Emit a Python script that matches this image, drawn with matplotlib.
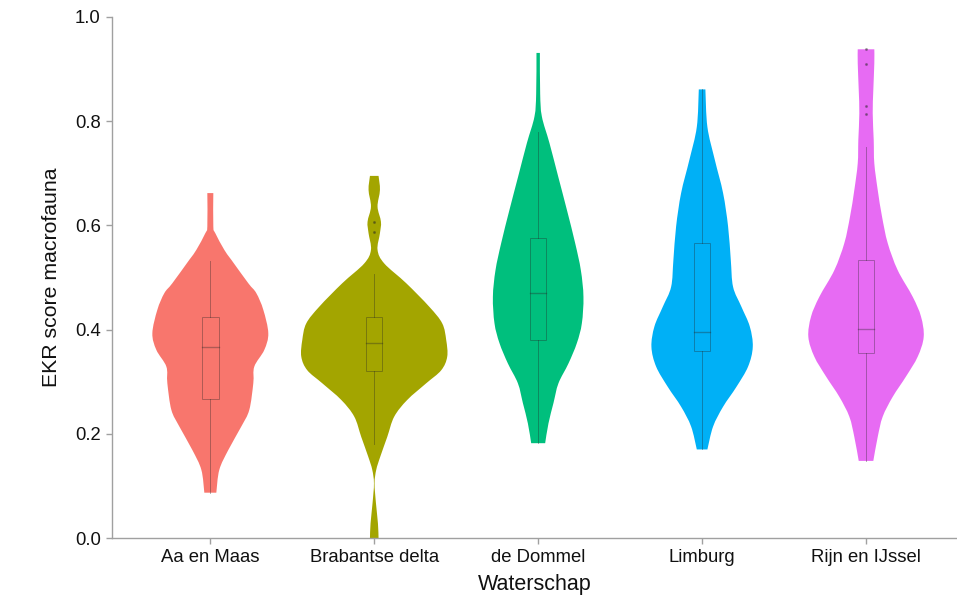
import matplotlib
matplotlib.use("Agg")
import matplotlib.pyplot as plt
from matplotlib.patches import Rectangle, PathPatch
from matplotlib.path import Path

plt.rcParams['font.family'] = ['Liberation Sans', 'DejaVu Sans']

groups = ['Aa en Maas', 'Brabantse delta', 'de Dommel', 'Limburg', 'Rijn en IJssel']
colors = ['#F8766D', '#A3A500', '#00BF7D', '#00B0F6', '#E76BF3']

# violin outlines: score levels and half widths (pixels)
aa_y = [0.087, 0.131, 0.169, 0.214, 0.246, 0.297, 0.329, 0.361, 0.393, 0.438, 0.470, 0.489, 0.534, 0.553, 0.585, 0.598, 0.662]
aa_w = [6, 9, 18, 31, 39, 43, 44, 54, 58, 53, 46, 38, 21, 14, 5, 3, 3]

br_y = [0.0, 0.028, 0.067, 0.105, 0.131, 0.156, 0.194, 0.233, 0.265, 0.297, 0.322, 0.348, 0.380,
        0.412, 0.444, 0.489, 0.527, 0.553, 0.585, 0.607, 0.636, 0.668, 0.695]
br_w = [4.3, 3.7, 1.7, 0.3, 2, 6, 13, 20, 33, 52, 67, 73, 72, 68, 55, 32, 10, 3.3, 5.7, 6.7, 3.3, 5.7, 4.3]

dm_y = [0.182, 0.220, 0.259, 0.297, 0.335, 0.374, 0.412, 0.463, 0.514, 0.566, 0.630, 0.694, 0.758, 0.809, 0.853, 0.931]
dm_w = [7, 10.3, 15.3, 20.3, 30.3, 38.7, 43.7, 45.3, 42.7, 37, 28.7, 20, 11.3, 3.7, 2, 1.7]

lb_y = [0.170, 0.214, 0.252, 0.290, 0.329, 0.367, 0.406, 0.444, 0.482, 0.534, 0.598, 0.662, 0.726, 0.789, 0.861]
lb_w = [5.3, 11, 21, 34.3, 46, 50.7, 47.7, 39.3, 31, 28.7, 26, 21, 12.7, 5.3, 3.3]

rj_y = [0.148, 0.194, 0.233, 0.271, 0.310, 0.348, 0.386, 0.425, 0.463, 0.514, 0.566, 0.617, 0.668,
        0.719, 0.764, 0.815, 0.860, 0.911, 0.938]
rj_w = [7.3, 11.7, 16.7, 26.7, 40, 51.7, 57.7, 55, 46.7, 31.7, 21.7, 16, 11.7, 8.3, 7.7, 6.7, 7.3, 8.3, 8.3]

violin_y = [aa_y, br_y, dm_y, lb_y, rj_y]
violin_w = [aa_w, br_w, dm_w, lb_w, rj_w]

# boxplot stats
q1 = [0.267, 0.321, 0.381, 0.359, 0.356]
med = [0.367, 0.374, 0.470, 0.396, 0.401]
q3 = [0.424, 0.425, 0.575, 0.566, 0.534]
whisk_lo = [0.087, 0.180, 0.182, 0.170, 0.148]
whisk_hi = [0.532, 0.507, 0.780, 0.861, 0.751]
outliers = [[], [0.607, 0.588], [], [], [0.938, 0.910, 0.829, 0.813]]

px_per_cat = 164.0   # horizontal pixels between categories
box_w = 0.1


def smooth_side(pts):
    # catmull-rom through the read points, drawn as cubic bezier segments
    verts, codes = [], []
    n = len(pts)
    for k in range(n - 1):
        p0 = pts[max(k - 1, 0)]
        p1 = pts[k]
        p2 = pts[k + 1]
        p3 = pts[min(k + 2, n - 1)]
        c1 = (p1[0] + (p2[0] - p0[0]) / 6, p1[1] + (p2[1] - p0[1]) / 6)
        c2 = (p2[0] - (p3[0] - p1[0]) / 6, p2[1] - (p3[1] - p1[1]) / 6)
        verts += [c1, c2, p2]
        codes += [Path.CURVE4] * 3
    return verts, codes


def violin_patch(x, ys, hw, color):
    right = [(x + h, y) for h, y in zip(hw, ys)]
    left = [(x - h, y) for h, y in zip(hw, ys)][::-1]
    verts = [right[0]]
    codes = [Path.MOVETO]
    v, c = smooth_side(right)
    verts += v
    codes += c
    verts.append(left[0])
    codes.append(Path.LINETO)
    v, c = smooth_side(left)
    verts += v
    codes += c
    verts.append(right[0])
    codes.append(Path.CLOSEPOLY)
    return PathPatch(Path(verts, codes), facecolor=color, edgecolor='none', zorder=2)


fig = plt.figure(figsize=(9.57, 6.0), dpi=100)
ax = fig.add_axes([0.117, 0.1033, 0.883, 0.8684])

for i, name in enumerate(groups):
    x = i + 1
    hw = [w / px_per_cat for w in violin_w[i]]
    ax.add_patch(violin_patch(x, violin_y[i], hw, colors[i]))

    lc = (0.15, 0.15, 0.15, 0.35)
    ax.add_patch(Rectangle((x - box_w / 2, q1[i]), box_w, q3[i] - q1[i],
                           fill=False, edgecolor=lc, linewidth=0.7, zorder=3))
    ax.plot([x - box_w / 2, x + box_w / 2], [med[i], med[i]], color=lc, linewidth=1.0, zorder=3)
    ax.plot([x, x], [q3[i], whisk_hi[i]], color=lc, linewidth=0.7, zorder=3)
    ax.plot([x, x], [whisk_lo[i], q1[i]], color=lc, linewidth=0.7, zorder=3)
    if outliers[i]:
        ax.plot([x] * len(outliers[i]), outliers[i], 'o', ms=1.2, color=lc, zorder=3)

ax.set_xlim(0.4, 5.555)
ax.set_ylim(0, 1.0)
ax.set_xticks(range(1, len(groups) + 1))
ax.set_xticklabels(groups)
ax.set_yticks([0.0, 0.2, 0.4, 0.6, 0.8, 1.0])
ax.set_yticklabels(['0.0', '0.2', '0.4', '0.6', '0.8', '1.0'])

for s in ['top', 'right']:
    ax.spines[s].set_visible(False)
for s in ['left', 'bottom']:
    ax.spines[s].set_color('#a0a0a0')
    ax.spines[s].set_linewidth(1.0)
ax.tick_params(axis='both', colors='#a0a0a0', labelcolor='#111111', labelsize=13.3,
               length=4, width=1.0, pad=4)

ax.set_xlabel('Waterschap', fontsize=15.5, color='#111111', labelpad=6)
ax.set_ylabel('EKR score macrofauna', fontsize=15.3, color='#111111', labelpad=10)

fig.savefig('out.png', dpi=100, facecolor='white')
